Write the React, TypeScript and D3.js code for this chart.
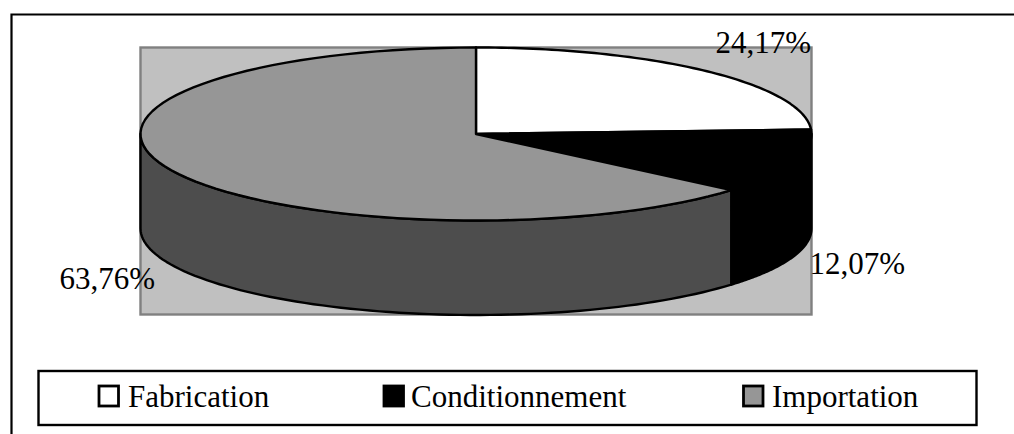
import React from "react";
import * as d3 from "d3";

const categories = ["Fabrication", "Conditionnement", "Importation"];
const shares = [24.17, 12.07, 63.76];
const shareLabels = ["24,17%", "12,07%", "63,76%"];
const topColors = ["#ffffff", "#000000", "#969696"];
const sideColors = ["#ffffff", "#000000", "#4d4d4d"];
const labelAnchors = [[811, 53], [905, 274], [155, 289]];
const legendSwatchX = [99, 384, 743.5];
const legendTextX = [128, 411, 772];

const W = 1014, H = 434;
const cx = 476, cy = 134, rx = 335.5, ry = 86.5, depth = 94.5;
const FONT = "'Liberation Serif', 'Times New Roman', serif";

const pie = d3.pie<number>().sort(null).startAngle(0).endAngle(2 * Math.PI);
const arcs = pie(shares);
const xAt = d3.scaleLinear().domain([-1, 1]).range([cx - rx, cx + rx]);
const yAt = d3.scaleLinear().domain([-1, 1]).range([cy - ry, cy + ry]);
const pt = (a: number, dy = 0): [number, number] => [xAt(Math.sin(a)), yAt(-Math.cos(a)) + dy];

function sweep(a0: number, a1: number) {
  return d3.range(0, 81).map((i) => a0 + ((a1 - a0) * i) / 80);
}
const line = d3.line();

function topPath(a0: number, a1: number) {
  const pts = [[cx, cy] as [number, number], ...sweep(a0, a1).map((a) => pt(a))];
  return line(pts) + "Z";
}
function sidePath(a0: number, a1: number) {
  const lo = Math.max(a0, Math.PI / 2), hi = Math.min(a1, (3 * Math.PI) / 2);
  if (hi <= lo) return null;
  const front = sweep(lo, hi);
  const pts = [...front.map((a) => pt(a)), ...front.slice().reverse().map((a) => pt(a, depth))];
  return line(pts) + "Z";
}

export default function App() {
  return (
    <svg width={W} height={H} style={{ position: "absolute", left: 0, top: 0, background: "#fff" }}>
      <path d={`M1014,14.5H11.5V434`} fill="none" stroke="#000" strokeWidth={2.2} />
      <rect x={140.5} y={47.5} width={671} height={267} fill="#c0c0c0" stroke="#808080" strokeWidth={2.4} />
      {arcs.map((d, i) => {
        const p = sidePath(d.startAngle, d.endAngle);
        return p ? <path key={i} d={p} fill={sideColors[i]} stroke="#000" strokeWidth={2.4} strokeLinejoin="round" /> : null;
      })}
      {arcs.map((d, i) => (
        <path key={i} d={topPath(d.startAngle, d.endAngle)} fill={topColors[i]} stroke="#000" strokeWidth={2.4} strokeLinejoin="round" />
      ))}
      {shareLabels.map((t, i) => (
        <text key={t} x={labelAnchors[i][0]} y={labelAnchors[i][1]} textAnchor="end" fontFamily={FONT} fontSize={31} fill="#000">{t}</text>
      ))}
      <rect x={38.5} y={371} width={938} height={54} fill="#fff" stroke="#000" strokeWidth={2.4} />
      {categories.map((c, i) => (
        <g key={c}>
          <rect x={legendSwatchX[i]} y={386} width={19.5} height={20} fill={topColors[i]} stroke="#000" strokeWidth={2.8} />
          <text x={legendTextX[i]} y={407} fontFamily={FONT} fontSize={31} fill="#000">{c}</text>
        </g>
      ))}
    </svg>
  );
}
